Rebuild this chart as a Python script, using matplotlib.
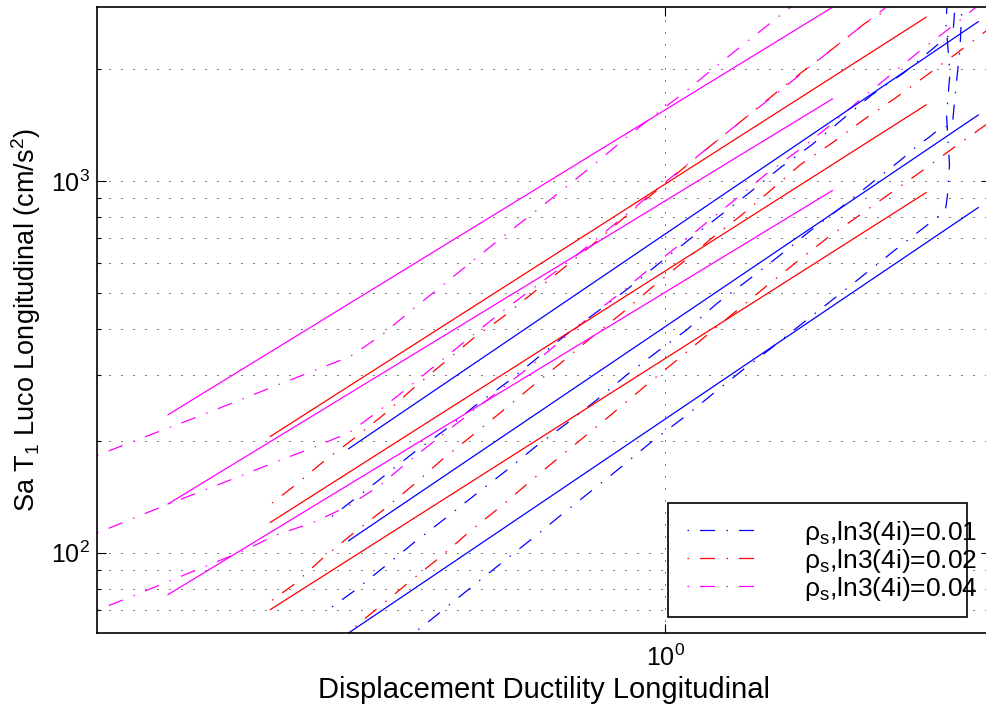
import matplotlib
matplotlib.use('Agg')
import matplotlib.pyplot as plt
from matplotlib.ticker import FixedLocator, NullLocator, LogLocator, NullFormatter, LogFormatterSciNotation
from matplotlib.patches import Rectangle

plt.rcParams['font.family'] = ['Liberation Sans', 'DejaVu Sans']
plt.rcParams['mathtext.fontset'] = 'custom'
plt.rcParams['mathtext.rm'] = 'Liberation Sans'
plt.rcParams['mathtext.it'] = 'Liberation Sans:italic'
plt.rcParams['mathtext.bf'] = 'Liberation Sans:bold'

# ---------------- data ----------------
# solid regression lines: two end points each
mag_solid_x = [0.2446, 1.6058]
mag_solid_y = [[235.0, 2930], [135.2, 1661], [77.13, 941.7]]
red_solid_x = [0.3268, 2.0941]
red_solid_y = [[205.4, 2755], [120.6, 1601], [70.29, 930.0]]
blue_solid_x = [0.4080, 2.4279]
blue_solid_y = [[190.4, 2681], [107.7, 1504], [60.83, 847.8]]

# dash-dot curves
mag_dd_a_x = [0.2000, 0.2289, 0.2719, 0.3017, 0.3330, 0.3695, 0.4099, 0.4484, 0.4881, 0.5314, 0.5785,
              0.6304, 0.6878, 0.7497, 0.8162, 0.8887, 0.9674, 1.0532, 1.1446, 1.2460, 1.3589, 1.4330]
mag_dd_a_y = [182.6, 204.7, 236.4, 258.9, 282.0, 308.5, 337.1, 385.5, 450.0, 522.0, 606.9,
              705.8, 818.9, 950.0, 1104, 1289, 1495, 1721, 2000, 2321, 2697, 2954]
mag_dd_b_x = [0.2000, 0.2137, 0.2289, 0.2450, 0.2719, 0.3017, 0.3330, 0.3695, 0.4091, 0.4462, 0.4857,
              0.5288, 0.5757, 0.6281, 0.6856, 0.7497, 0.8162, 0.8887, 0.9674, 1.0532, 1.1446, 1.2460,
              1.3589, 1.4795, 1.6136, 1.7617, 1.8644]
mag_dd_b_y = [113.0, 119.7, 127.3, 135.2, 147.7, 161.4, 176.0, 191.9, 210.6, 242.3, 281.1,
              326.8, 380.0, 442.6, 511.6, 591.0, 687.7, 800.3, 934.1, 1087, 1257, 1459,
              1692, 1963, 2282, 2654, 2918]
mag_dd_c_x = [0.2000, 0.2067, 0.2209, 0.2450, 0.2719, 0.3017, 0.3330, 0.3678, 0.4068, 0.4454, 0.4834,
              0.5288, 0.5757, 0.6268, 0.6823, 0.7429, 0.8087, 0.8806, 0.9585, 1.0433, 1.1357, 1.2365,
              1.3273, 1.4795, 1.6077, 1.7455, 1.9003, 2.0691, 2.2583, 2.4167]
mag_dd_c_y = [70.29, 72.04, 76.30, 83.71, 91.88, 100.8, 111.8, 120.2, 133.2, 151.4, 176.0,
              205.4, 237.4, 274.3, 316.8, 370.3, 431.7, 499.1, 582.6, 675.7, 785.6, 913.1,
              1038, 1236, 1429, 1668, 1939, 2259, 2610, 2941]

red_dd_a_x = [0.3284, 0.3491, 0.3801, 0.4138, 0.4505, 0.4903, 0.5338, 0.5812, 0.6327, 0.6887, 0.7497,
              0.8162, 0.8887, 0.9674, 1.0532, 1.1446, 1.2460, 1.3589, 1.4795, 1.6136, 1.7617, 1.9003]
red_dd_a_y = [136.0, 150.7, 176.0, 202.5, 235.0, 277.2, 323.6, 377.7, 431.7, 500.9, 582.6,
              677.0, 793.9, 926.6, 1082, 1257, 1459, 1703, 1976, 2282, 2654, 2941]
red_dd_b_x = [0.3284, 0.3491, 0.3783, 0.4138, 0.4505, 0.4903, 0.5314, 0.5785, 0.6298, 0.6856, 0.7464,
              0.8126, 0.8849, 0.9629, 1.0484, 1.1414, 1.2425, 1.3461, 1.4655, 1.6032, 1.7536, 1.9180,
              2.0926, 2.2839, 2.5099]
red_dd_b_y = [74.45, 82.04, 96.18, 113.0, 130.5, 152.3, 177.8, 206.3, 239.8, 279.9, 325.5,
              380.0, 440.9, 516.7, 601.0, 701.5, 810.3, 940.0, 1104, 1263, 1459, 1668,
              1916, 2204, 2578]
red_dd_c_x = [0.4158, 0.4217, 0.4484, 0.4881, 0.5314, 0.5769, 0.6281, 0.6823, 0.7429, 0.8087, 0.8806,
              0.9566, 1.0413, 1.1336, 1.2365, 1.3461, 1.4628, 1.5954, 1.7418, 1.9055, 2.0844, 2.2731,
              2.5099]
red_dd_c_y = [63.26, 64.96, 72.49, 84.60, 98.15, 114.8, 133.2, 155.5, 181.5, 211.1, 246.4,
              287.0, 333.8, 389.6, 455.6, 530.9, 613.3, 711.5, 813.8, 935.9, 1075, 1236,
              1441]

blue_dd_a_x = [0.3892, 0.4138, 0.4505, 0.4903, 0.5364, 0.5823, 0.6387, 0.6986, 0.7578, 0.8279, 0.9038,
               0.9840, 1.0733, 1.1684, 1.2747, 1.3849, 1.5148, 1.6492, 1.7955, 1.9634, 2.1376, 2.1954,
               2.2603, 2.2666, 2.2731]
blue_dd_a_y = [125.2, 138.8, 160.4, 185.7, 214.1, 247.4, 287.0, 335.9, 387.9, 447.2, 516.7,
               601.0, 698.4, 806.8, 935.9, 1084, 1250, 1459, 1703, 1948, 2273, 2393,
               2500, 2709, 2972]
blue_dd_b_x = [0.3892, 0.4138, 0.4505, 0.4903, 0.5353, 0.5840, 0.6357, 0.6920, 0.7556, 0.8242, 0.8973,
               0.9784, 1.0634, 1.1594, 1.2659, 1.3782, 1.5046, 1.6412, 1.7870, 1.9454, 2.0492, 2.1180,
               2.1788, 2.2583, 2.2603, 2.2794, 2.3056, 2.3186]
blue_dd_b_y = [71.45, 78.70, 91.31, 106.2, 123.2, 143.2, 165.4, 192.4, 222.2, 257.8, 300.9,
               347.6, 397.7, 469.1, 541.9, 625.9, 730.6, 844.6, 979.7, 1134, 1250, 1316,
               1386, 1414, 1477, 1789, 2278, 2972]
blue_dd_c_x = [0.4969, 0.5166, 0.5812, 0.6327, 0.6903, 0.7429, 0.8625, 0.9694, 1.0583, 1.1520, 1.2543,
               1.3461, 1.4939, 1.6258, 1.7733, 1.9307, 2.1078, 2.1623, 2.2127, 2.2252, 2.2380, 2.2190,
               2.2411, 2.2158, 2.2221]
blue_dd_c_y = [62.09, 66.35, 81.68, 94.76, 110.2, 125.7, 163.1, 201.3, 232.5, 270.4, 313.7,
               352.9, 422.9, 488.7, 568.3, 659.3, 764.8, 798.8, 835.7, 917.1, 1104, 1504,
               1951, 2642, 2972]

legend_labels = [r'$\mathrm{\rho_s}$,ln3(4i)=0.01',
                 r'$\mathrm{\rho_s}$,ln3(4i)=0.02',
                 r'$\mathrm{\rho_s}$,ln3(4i)=0.04']
x_label = 'Displacement Ductility Longitudinal'
y_label = r'Sa T$_\mathrm{1}$ Luco Longitudinal (cm/s$^\mathrm{2}$)'

# ---------------- figure ----------------
fig = plt.figure(figsize=(9.86, 7.12), dpi=100)
ax = fig.add_axes([97/986, 79/712, 893/986, 626/712])
ax.set_xscale('log')
ax.set_yscale('log')

BLUE, RED, MAG = (0, 0, 1), (1, 0, 0), (1, 0, 1)
dd = (21.2, (12, 9.2, 1.2, 8.8))
lw = 0.9

hb = ax.plot(blue_dd_a_x, blue_dd_a_y, color=BLUE, ls=dd, lw=lw)[0]
ax.plot(blue_dd_b_x, blue_dd_b_y, color=BLUE, ls=dd, lw=lw)
ax.plot(blue_dd_c_x, blue_dd_c_y, color=BLUE, ls=dd, lw=lw)
hr = ax.plot(red_dd_a_x, red_dd_a_y, color=RED, ls=dd, lw=lw)[0]
ax.plot(red_dd_b_x, red_dd_b_y, color=RED, ls=dd, lw=lw)
ax.plot(red_dd_c_x, red_dd_c_y, color=RED, ls=dd, lw=lw)
hm = ax.plot(mag_dd_a_x, mag_dd_a_y, color=MAG, ls=dd, lw=lw)[0]
ax.plot(mag_dd_b_x, mag_dd_b_y, color=MAG, ls=dd, lw=lw)
ax.plot(mag_dd_c_x, mag_dd_c_y, color=MAG, ls=dd, lw=lw)

for ys in blue_solid_y:
    ax.plot(blue_solid_x, ys, color=BLUE, ls='-', lw=lw)
for ys in red_solid_y:
    ax.plot(red_solid_x, ys, color=RED, ls='-', lw=lw)
for ys in mag_solid_y:
    ax.plot(mag_solid_x, ys, color=MAG, ls='-', lw=lw)

ax.set_xlim(0.2, 2.51)
ax.set_ylim(60.8, 2936)

ax.xaxis.set_major_locator(FixedLocator([1.0]))
ax.xaxis.set_minor_locator(NullLocator())
ax.xaxis.set_major_formatter(LogFormatterSciNotation())
ax.yaxis.set_major_locator(LogLocator(base=10))
ax.yaxis.set_minor_locator(LogLocator(base=10, subs=[2, 3, 4, 5, 6, 7, 8, 9]))
ax.yaxis.set_minor_formatter(NullFormatter())

grid_ls = (0, (1, 11))
ax.grid(True, which='major', axis='both', color='k', ls=grid_ls, lw=0.72)
ax.grid(True, which='minor', axis='y', color='k', ls=grid_ls, lw=0.72)

ax.tick_params(which='both', direction='in', top=True, right=True, width=0.8)
ax.tick_params(which='major', length=6.3, labelsize=18)
ax.tick_params(which='minor', length=3.1)
ax.tick_params(axis='x', which='major', pad=8)
ax.tick_params(axis='y', which='major', pad=5)
for s in ax.spines.values():
    s.set_linewidth(1.2)

ax.set_xlabel(x_label, fontsize=21)
ax.set_ylabel(y_label, fontsize=19.5)
ax.xaxis.set_label_coords(0.5, -0.068)
ax.yaxis.set_label_coords(-0.060, 0.5)

# legend
box = Rectangle((0.6398, 0.0251), 0.3348, 0.1821, transform=ax.transAxes,
                facecolor='white', edgecolor='k', lw=1.2, zorder=4.5)
ax.add_patch(box)
leg = ax.legend([hb, hr, hm], legend_labels, loc='center left',
                bbox_to_anchor=(0.6604, 0.1155), frameon=False, borderpad=0,
                borderaxespad=0, handlelength=2.53, handletextpad=1.9,
                labelspacing=0.0, fontsize=19)
leg.set_zorder(5)

fig.savefig('out.png', dpi=100)
